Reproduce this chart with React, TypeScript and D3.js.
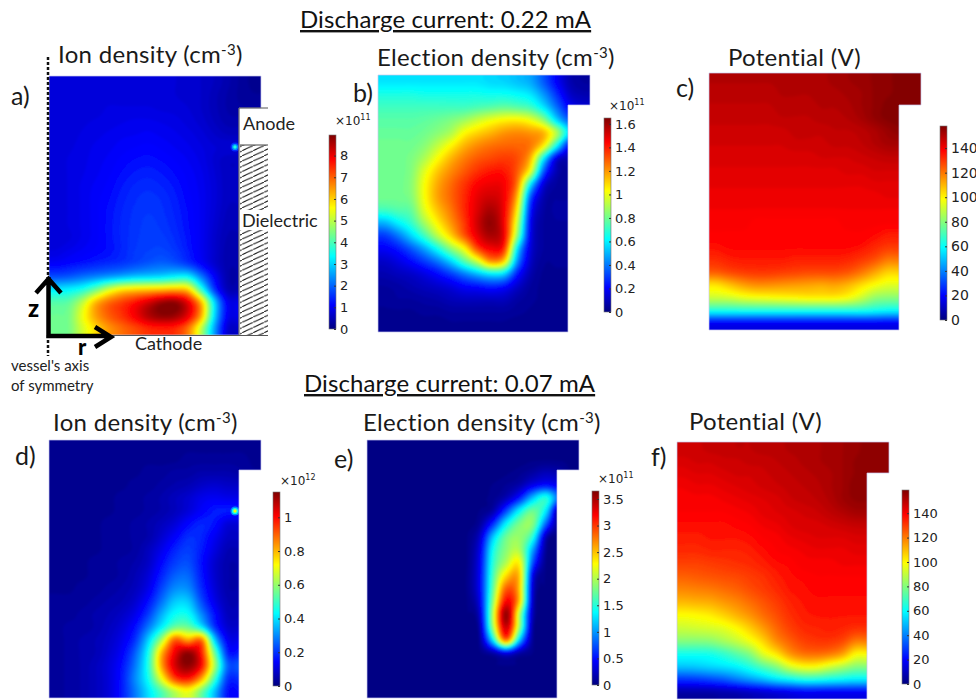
import { useEffect, useRef } from "react"
import * as d3 from "d3"

// field values, top row first, shorter rows repeat their last value
const ionHigh = [
  [.8,.8,.8,.8,.8,.8,.8,.8,.78,.75,.7,.65,.55,.4,.25,.15],
  [.8,.8,.8,.8,.8,.8,.8,.8,.78,.75,.7,.65,.5,.36,.25,.2],
  [.8,.8,.8,.8,.85,.85,.85,.85,.82,.8,.75,.65,.5,.36,.3,.3],
  [.78,.8,.82,.85,.88,.92,.95,.95,.92,.88,.8,.7,.55,.42],
  [.78,.8,.85,.9,.95,1,1.02,1.05,1,.95,.88,.78,.65,.55],
  [.78,.82,.88,.95,1,1.07,1.12,1.15,1.1,1.02,.95,.85,.75,.75],
  [.78,.85,.9,.98,1.05,1.15,1.22,1.25,1.2,1.12,1.02,.9,.72,.58],
  [.78,.85,.92,1,1.1,1.22,1.32,1.36,1.3,1.2,1.08,.95,.75,.58],
  [.78,.85,.95,1.05,1.15,1.3,1.42,1.46,1.4,1.28,1.12,.98,.78,.58],
  [.78,.85,.95,1.08,1.2,1.36,1.48,1.54,1.48,1.34,1.16,1,.78,.58],
  [.76,.85,.95,1.08,1.24,1.4,1.52,1.58,1.52,1.38,1.2,1,.76,.54],
  [.76,.85,.95,1.08,1.25,1.42,1.54,1.62,1.56,1.42,1.22,1,.72,.5],
  [.76,.82,.95,1.08,1.25,1.42,1.56,1.64,1.62,1.48,1.26,1,.68,.45],
  [.85,.95,1.05,1.15,1.25,1.42,1.6,1.68,1.72,1.58,1.32,1,.68,.4],
  [1.1,1.2,1.3,1.4,1.5,1.6,1.75,1.9,2,1.9,1.6,1.15,.7,.4],
  [1.8,1.9,2.1,2.3,2.5,2.7,2.9,3,3.1,3.3,3.3,2.2,1.1,.4],
  [3.2,3.3,3.6,4.3,5.2,5.8,6,6.1,6.2,6.3,6,3.8,1.6,.5],
  [4.1,4.2,5,6.2,6.9,7.3,7.7,8.2,8.7,8.8,8,6.2,3,1],
  [4.3,4.4,5.4,6.4,7,7.4,7.9,8.5,8.8,8.7,8,6.3,3,1],
  [4.3,4.4,5.2,5.9,6.5,6.9,7.2,7.5,7.6,7.5,6.8,5,2.5,.7],
]

const electronHigh = [
  [.58,.58,.58,.58,.58,.58,.58,.58,.56,.55,.52,.48,.35,.2,.08,.05],
  [.66,.66,.66,.65,.65,.65,.65,.65,.64,.64,.62,.58,.45,.28,.12,.08],
  [.72,.72,.72,.72,.72,.72,.72,.74,.76,.78,.76,.72,.58,.38,.2,.15],
  [.76,.76,.76,.77,.79,.82,.87,.94,1,1.04,1.05,1,.85,.55,.35],
  [.78,.78,.78,.8,.84,.9,1.03,1.1,1.15,1.2,1.22,1.2,1.15,.9,.55],
  [.8,.8,.8,.84,.93,1.04,1.15,1.22,1.26,1.28,1.28,1.25,1.05,.62,.2],
  [.8,.8,.82,.9,1.03,1.15,1.24,1.3,1.33,1.35,1.32,1.15,.6,.15,.08],
  [.8,.8,.83,.98,1.12,1.22,1.3,1.37,1.41,1.41,1.3,1,.35,.08,.05],
  [.8,.8,.84,1.02,1.17,1.27,1.36,1.44,1.47,1.45,1.25,.6,.15,.05],
  [.8,.8,.83,1.02,1.18,1.28,1.38,1.48,1.52,1.46,1.15,.35,.08,.05],
  [.72,.75,.78,.98,1.13,1.25,1.38,1.5,1.58,1.46,1.05,.25,.06],
  [.5,.6,.7,.88,1.05,1.2,1.35,1.52,1.62,1.46,.95,.2,.05],
  [.3,.4,.55,.72,.92,1.1,1.3,1.48,1.58,1.47,.85,.18,.05],
  [.2,.25,.35,.48,.65,.85,1.03,1.33,1.45,1.38,.6,.15,.05],
  [.12,.16,.22,.3,.4,.55,.75,.95,1.2,1.1,.45,.12,.04],
  [.08,.1,.12,.16,.22,.3,.4,.5,.58,.55,.25,.08,.03],
  [.05,.06,.08,.1,.12,.15,.2,.22,.25,.22,.12,.05,.03],
  [.04,.05,.05,.06,.07,.09,.1,.1,.1,.1,.06,.04,.03],
  [.03,.03,.03,.04,.04,.05,.05,.05,.05,.05,.04,.03,.02],
  [.02,.02,.02,.02,.02,.03,.03,.03,.03,.03,.02,.02,.02],
]

const potentialHigh = [
  [150,150,150,150,150,150,150,151,151,152,153,154,155,156,157,157],
  [149,149,149,149,149,150,150,150,151,151,152,153,155,156,157,157],
  [148,148,148,148,148,149,149,149,150,150,151,153,155,157],
  [147,147,147,147,147,148,148,148,149,149,150,152,155,157],
  [146,146,146,146,146,146,147,147,147,148,148,149,151,154,156],
  [145,145,145,145,145,145,146,146,146,147,147,148,150,152],
  [144,144,144,144,144,144,144,144,145,145,145,146,147,148],
  [143,143,143,143,143,143,143,143,143,143,144,144,145,145,145],
  [142,142,142,142,142,142,142,142,142,142,142,142,143,143],
  [141,141,141,141,141,141,141,141,141,141,141,141,141,142],
  [140,140,140,140,140,140,140,140,140,140,140,140,140,140],
  [139,139,139,138,138,138,138,138,138,138,139,139,139,139],
  [138,138,138,138,138,138,138,138,138,138,138,138,137,135],
  [136,137,137,137,137,137,137,137,137,137,137,136,133,130],
  [132,134,135,135,135,135,134,134,134,134,133,130,126,120],
  [124,127,129,130,130,129,128,127,127,127,125,120,113,106],
  [103,108,113,116,116,115,114,113,112,113,110,104,98,94],
  [90,91,94,96,97,98,99,100,100,100,97,90,82,80],
  [62,62,62,62,62,62,62,62,62,62,62,62,60,58],
  [18,18,18,18,18,18,18,18,18,18,18,18,18,18],
]

const ionLow = [
  [.02,.02,.02,.02,.02,.02,.02,.02,.02,.02,.02,.02,.02,.02,.02,.02],
  [.02,.02,.02,.02,.02,.02,.02,.02,.02,.02,.03,.03,.03,.03,.03,.02],
  [.02,.02,.02,.02,.02,.02,.02,.03,.03,.04,.04,.05,.05,.05,.04,.03],
  [.02,.02,.02,.02,.02,.02,.03,.03,.04,.05,.06,.08,.09,.08],
  [.02,.02,.02,.02,.02,.03,.03,.04,.05,.07,.09,.12,.13,.12],
  [.02,.02,.02,.02,.02,.03,.03,.04,.05,.07,.1,.14,.17,.17],
  [.02,.02,.02,.02,.03,.03,.04,.05,.07,.1,.15,.18,.16,.1],
  [.02,.02,.02,.02,.03,.03,.04,.05,.09,.14,.19,.18,.13,.08],
  [.02,.02,.02,.02,.03,.03,.04,.07,.12,.18,.21,.17,.11,.06],
  [.02,.02,.02,.03,.03,.04,.05,.08,.15,.21,.23,.16,.09,.05],
  [.02,.02,.02,.03,.03,.04,.06,.1,.18,.25,.26,.17,.09,.05],
  [.02,.02,.03,.03,.04,.05,.07,.12,.22,.3,.3,.19,.1,.05],
  [.03,.03,.03,.04,.05,.06,.09,.16,.27,.37,.37,.23,.12,.06],
  [.03,.03,.04,.05,.06,.08,.12,.21,.34,.44,.44,.3,.16,.07],
  [.03,.04,.04,.05,.07,.1,.16,.28,.42,.55,.55,.42,.2,.09],
  [.03,.04,.05,.06,.08,.12,.2,.38,.62,.9,.82,.88,.38,.13],
  [.03,.04,.05,.06,.09,.14,.25,.45,.8,1.02,1.13,.98,.55,.18],
  [.03,.04,.05,.07,.1,.16,.28,.47,.82,1.05,1.13,1,.62,.25],
  [.03,.04,.05,.07,.1,.17,.3,.45,.7,.93,.98,.82,.5,.2],
  [.03,.04,.05,.07,.1,.17,.28,.4,.52,.64,.7,.56,.36,.16],
]

const electronLow = [
  [.02,.02,.02,.02,.02,.02,.02,.02,.02,.02,.02,.02,.02,.02,.02,.02],
  [.02,.02,.02,.02,.02,.02,.02,.02,.02,.02,.02,.02,.03,.03,.03,.03],
  [.02,.02,.02,.02,.02,.02,.02,.02,.02,.02,.03,.06,.12,.2,.15,.05],
  [.02,.02,.02,.02,.02,.02,.02,.02,.03,.04,.08,.16,.38,.5,.4],
  [.02,.02,.02,.02,.02,.02,.02,.02,.03,.06,.2,.55,1.15,1.5,.8],
  [.02,.02,.02,.02,.02,.02,.02,.02,.04,.15,.7,1.35,1.75,1.3,.05],
  [.02,.02,.02,.02,.02,.02,.02,.02,.1,.6,1.35,1.8,1.85,.8,.03],
  [.02,.02,.02,.02,.02,.02,.02,.03,.25,1.15,1.75,1.9,1.5,.2,.02],
  [.02,.02,.02,.02,.02,.02,.02,.03,.35,1.4,1.85,1.98,1.05,.08,.02],
  [.02,.02,.02,.02,.02,.02,.02,.03,.4,1.5,2,2.3,.75,.04,.02],
  [.02,.02,.02,.02,.02,.02,.02,.04,.42,1.6,2.4,2.5,.4,.03,.02],
  [.02,.02,.02,.02,.02,.02,.02,.04,.42,1.7,2.85,2.5,.3,.03,.02],
  [.02,.02,.02,.02,.02,.02,.02,.03,.35,1.85,3.2,2.5,.25,.03,.02],
  [.02,.02,.02,.02,.02,.02,.02,.03,.25,2,3.6,2,.2,.03,.02],
  [.02,.02,.02,.02,.02,.02,.02,.03,.15,1.9,3.4,1.9,.12,.02],
  [.02,.02,.02,.02,.02,.02,.02,.02,.08,1.3,2.8,1.2,.08,.02],
  [.02,.02,.02,.02,.02,.02,.02,.02,.03,.15,.4,.15,.04,.02],
  [.02,.02,.02,.02,.02,.02,.02,.02,.02,.03,.04,.03,.02,.02],
  [.02,.02,.02,.02,.02,.02,.02,.02,.02,.02,.02,.02,.02,.02],
  [.02,.02,.02,.02,.02,.02,.02,.02,.02,.02,.02,.02,.02,.02],
]

const potentialLow = [
  [147,147,148,148,149,149,150,150,151,151,152,153,154,155,157,157],
  [145,146,146,147,147,148,148,149,150,151,152,153,154,156,157,157],
  [143,144,144,145,146,146,147,148,149,150,151,152,154,156,157],
  [141,142,142,143,144,145,146,147,148,149,150,152,154,157],
  [140,140,140,141,142,143,144,145,147,148,149,151,154,156],
  [139,139,139,139,140,141,143,144,145,146,147,149,151,153],
  [137,137,137,137,138,139,141,142,144,145,145,146,147,148],
  [135,135,136,136,136,137,139,140,142,143,144,144,144,145],
  [133,133,134,134,134,135,137,139,140,141,142,142,142,143],
  [129,129,130,131,132,133,135,137,138,140,140,140,141,141],
  [124,125,126,127,128,130,132,135,137,138,139,139,139,139],
  [118,119,120,122,124,127,130,133,136,137,138,138,138,138],
  [110,111,112,115,118,122,126,130,134,136,137,137,137,137],
  [99,100,102,106,111,116,122,127,132,135,136,136,136,136],
  [91,92,93,95,100,107,115,123,129,133,134,135,134,132],
  [80,80,81,85,90,97,106,117,124,129,131,131,128,120],
  [62,62,63,67,73,80,94,103,115,121,122,120,114,100],
  [50,51,53,55,58,64,72,80,92,98,98,92,86,80],
  [27,28,30,33,38,43,48,54,58,62,62,60,58,56],
  [6,6,6,7,8,10,12,14,16,18,18,18,18,18],
]

const ticksIonHigh = [0, 1, 2, 3, 4, 5, 6, 7, 8]
const ticksElectronHigh = [0, 0.2, 0.4, 0.6, 0.8, 1, 1.2, 1.4, 1.6]
const ticksPotential = [0, 20, 40, 60, 80, 100, 120, 140]
const ticksIonLow = [0, 0.2, 0.4, 0.6, 0.8, 1]
const ticksElectronLow = [0, 0.5, 1, 1.5, 2, 2.5, 3, 3.5]

const jetStops = [0, 0.125, 0.375, 0.625, 0.875, 1]
const jetColors = ["#00007f", "#0000ff", "#00ffff", "#ffff00", "#ff0000", "#7f0000"]

const spotIonHigh = [1.5, 2.4, 3.6]
const spotIonLow = [0.3, 0.45, 0.7]

const panels = [
  { id: "a", grid: ionHigh, max: 8.95, ticks: ticksIonHigh, exp: "11", spot: spotIonHigh, x: 49, y: 76, h: 259, notch: 32, bar: [329, 135], expX: 335, expY: 125, tickSize: 13, blur: 1 },
  { id: "b", grid: electronHigh, max: 1.65, ticks: ticksElectronHigh, exp: "11", spot: null, x: 378, y: 75, h: 257, notch: 30, bar: [604, 118], expX: 609, expY: 110, tickSize: 13, blur: 1 },
  { id: "c", grid: potentialHigh, max: 158, ticks: ticksPotential, exp: null, spot: null, x: 709, y: 73, h: 257, notch: 32, bar: [940, 126], tickSize: 14, blur: 1.6 },
  { id: "d", grid: ionLow, max: 1.15, ticks: ticksIonLow, exp: "12", spot: spotIonLow, x: 49, y: 440, h: 258, notch: 30, bar: [273, 492], expX: 280, expY: 485, tickSize: 13, blur: 1 },
  { id: "e", grid: electronLow, max: 3.65, ticks: ticksElectronLow, exp: "11", spot: null, x: 367, y: 440, h: 258, notch: 30, bar: [592, 491], expX: 598, expY: 483, tickSize: 13, blur: 1 },
  { id: "f", grid: potentialLow, max: 159, ticks: ticksPotential, exp: null, spot: null, x: 677, y: 442, h: 257, notch: 31, bar: [902, 490], tickSize: 13, blur: 1.6 },
]

const titles = [
  { label: "Ion density (cm", sup: "-3", tail: ")", x: 58, y: 63 },
  { label: "Election density (cm", sup: "-3", tail: ")", x: 377, y: 66 },
  { label: "Potential (V)", x: 728, y: 66 },
  { label: "Ion density (cm", sup: "-3", tail: ")", x: 53, y: 431 },
  { label: "Election density (cm", sup: "-3", tail: ")", x: 363, y: 431 },
  { label: "Potential (V)", x: 689, y: 430 },
]

const letters = [
  ["a)", 11, 105], ["b)", 353, 102], ["c)", 676, 97],
  ["d)", 15, 465], ["e)", 334, 468], ["f)", 651, 466],
]

const headings = [
  { label: "Discharge current: 0.22 mA", x: 300, y: 28 },
  { label: "Discharge current: 0.07 mA", x: 304, y: 392 },
]

const bodyWidth = 190
const fullWidth = 212
const barWidth = 7
const barHeight = 194
const titleFont = "Lato, 'Open Sans', sans-serif"
const tickFont = "'DejaVu Sans', sans-serif"

const padGrid = (grid: number[][], pad: number) => {
  const cols = d3.max(grid, r => r.length) as number
  const full = grid.map(r => d3.range(cols).map(i => (i < r.length ? r[i] : r[r.length - 1])))
  const wide = full.map(r => [...d3.range(pad).map(() => r[0]), ...r, ...d3.range(pad).map(() => r[cols - 1])])
  return [
    ...d3.range(pad).map(() => wide[0]),
    ...wide,
    ...d3.range(pad).map(() => wide[wide.length - 1]),
  ]
}

// resample a row of cell values so the contours come out round instead of faceted
const resample = (values: number[], k: number) => {
  const n = values.length
  const at = (i: number) => values[Math.max(0, Math.min(n - 1, i))]
  return d3.range(n * k).map(j => {
    const u = (j + 0.5) / k - 0.5
    const i = Math.floor(u)
    const t = u - i
    const [a, b, c, d] = [at(i - 1), at(i), at(i + 1), at(i + 2)]
    return 0.5 * (2 * b + (c - a) * t + (2 * a - 5 * b + 4 * c - d) * t * t + (3 * b - a - 3 * c + d) * t * t * t)
  })
}

const resampleGrid = (grid: number[][], k: number) => {
  const wide = grid.map(r => resample(r, k))
  const columns = d3.range(wide[0].length).map(j => resample(wide.map(r => r[j]), k))
  return d3.range(columns[0].length).map(i => columns.map(c => Math.max(0, c[i])))
}

const App = () => {
  const svgRef = useRef<SVGSVGElement>(null)

  useEffect(() => {
    const svg = d3.select(svgRef.current)
    svg.selectAll("*").remove()
    const defs = svg.append("defs")

    defs.append("filter").attr("id", "softSpot")
      .attr("x", "-100%").attr("y", "-100%").attr("width", "300%").attr("height", "300%")
      .append("feGaussianBlur").attr("stdDeviation", 0.6)

    const hatch = defs.append("pattern").attr("id", "hatch")
      .attr("patternUnits", "userSpaceOnUse").attr("width", 11).attr("height", 5.2)
    hatch.append("path").attr("d", "M-1,5.67 L12,-0.47").attr("stroke", "#222").attr("stroke-width", 1)

    panels.forEach(p => {
      const color = d3.scaleLinear<string>().domain(jetStops.map(s => s * p.max)).range(jetColors)
      const pad = 2
      const k = 4
      const grid = resampleGrid(padGrid(p.grid, pad), k)
      const rows = grid.length
      const cols = grid[0].length
      const sx = d3.scaleLinear().domain([0, cols]).range([p.x - (pad * fullWidth) / 16, p.x + fullWidth + (pad * fullWidth) / 16])
      const sy = d3.scaleLinear().domain([0, rows]).range([p.y - (pad * p.h) / 20, p.y + p.h + (pad * p.h) / 20])

      defs.append("filter").attr("id", `soft-${p.id}`)
        .attr("x", "-5%").attr("y", "-5%").attr("width", "110%").attr("height", "110%")
        .append("feGaussianBlur").attr("stdDeviation", p.blur)

      const outline = [
        [p.x, p.y], [p.x + fullWidth, p.y], [p.x + fullWidth, p.y + p.notch],
        [p.x + bodyWidth, p.y + p.notch], [p.x + bodyWidth, p.y + p.h], [p.x, p.y + p.h],
      ]
      const outlinePath = d3.line()(outline as [number, number][]) + "Z"
      defs.append("clipPath").attr("id", `clip-${p.id}`).append("path").attr("d", outlinePath)

      const steps = 96
      const contours = d3.contours().size([cols, rows])
        .thresholds(d3.range(steps).map(i => (i * p.max) / steps))(grid.flat())
      const path = d3.geoPath(d3.geoTransform({
        point(x, y) { this.stream.point(sx(x), sy(y)) },
      }))

      const clipped = svg.append("g").attr("clip-path", `url(#clip-${p.id})`)
      clipped.append("g").attr("filter", `url(#soft-${p.id})`)
        .selectAll("path").data(contours).join("path")
        .attr("d", path as any)
        .attr("fill", (_, i) => color(((i + 0.5) * p.max) / steps))

      if (p.spot) {
        clipped.append("g").attr("filter", "url(#softSpot)")
          .selectAll("circle").data(p.spot).join("circle")
          .attr("cx", p.x + 186).attr("cy", p.y + 71)
          .attr("r", (_, i) => 4.5 - i * 1.4)
          .attr("fill", d => color(d))
      }
      svg.append("path").attr("d", outlinePath).attr("fill", "none")
        .attr("stroke", "#c8c8ee").attr("stroke-width", 1).attr("opacity", 0.7)

      // colour bar
      const [bx, by] = p.bar
      const gradId = `grad-${p.id}`
      defs.append("linearGradient").attr("id", gradId)
        .attr("x1", 0).attr("x2", 0).attr("y1", 1).attr("y2", 0)
        .selectAll("stop").data(jetStops).join("stop")
        .attr("offset", d => d)
        .attr("stop-color", (_, i) => jetColors[i])
      svg.append("rect").attr("x", bx).attr("y", by).attr("width", barWidth).attr("height", barHeight)
        .attr("fill", `url(#${gradId})`).attr("stroke", "#777").attr("stroke-width", 0.6)

      const barScale = d3.scaleLinear().domain([0, p.max]).range([by + barHeight, by])
      const axis = d3.axisRight(barScale)
        .tickValues(p.ticks)
        .tickFormat(d => String(d))
        .tickSizeInner(-2).tickSizeOuter(0).tickPadding(4)
      const axisG = svg.append("g").attr("transform", `translate(${bx + barWidth},0)`).call(axis)
      axisG.select(".domain").remove()
      axisG.selectAll("line").attr("stroke", "#333")
      axisG.selectAll("text").attr("font-family", tickFont).attr("font-size", p.tickSize).attr("fill", "#222")

      if (p.exp) {
        const t = svg.append("text").attr("x", p.expX as number).attr("y", p.expY as number)
          .attr("font-family", tickFont).attr("font-size", 12).attr("fill", "#222")
        t.append("tspan").text("×10")
        t.append("tspan").attr("dy", -5).attr("font-size", 8).text(p.exp)
      }
    })

    // titles and labels
    titles.forEach(t => {
      const el = svg.append("text").attr("x", t.x).attr("y", t.y)
        .attr("font-family", titleFont).attr("font-size", 24).attr("letter-spacing", 0.3).attr("fill", "#1a1a1a")
      el.append("tspan").text(t.label)
      if (t.sup) {
        el.append("tspan").attr("dy", -8).attr("font-size", 15).text(t.sup)
        el.append("tspan").attr("dy", 8).text(t.tail as string)
      }
    })
    svg.append("g").selectAll("text").data(letters).join("text")
      .attr("x", d => d[1]).attr("y", d => d[2])
      .attr("font-family", titleFont).attr("font-size", 25).attr("fill", "#1a1a1a")
      .text(d => d[0])
    svg.append("g").selectAll("text").data(headings).join("text")
      .attr("x", d => d.x).attr("y", d => d.y)
      .attr("font-family", titleFont).attr("font-size", 24).attr("letter-spacing", 0.1).attr("fill", "#111")
      .attr("text-decoration", "underline")
      .text(d => d.label)

    // panel a annotations
    const ann = svg.append("g")
    ann.append("rect").attr("x", 240).attr("y", 145).attr("width", 28).attr("height", 190).attr("fill", "url(#hatch)")
    ann.append("rect").attr("x", 240).attr("y", 210).attr("width", 30).attr("height", 20).attr("fill", "#fff")
    ann.append("path").attr("d", "M268,108 H239 V145 M239,145 V335 M112,335.5 H268")
      .attr("fill", "none").attr("stroke", "#555").attr("stroke-width", 1)
    ann.append("path").attr("d", "M240,145 H268").attr("stroke", "#444").attr("stroke-width", 1)
    const small = [
      ["Anode", 243, 130, 18], ["Dielectric", 242, 227, 18], ["Cathode", 135, 350, 18],
      ["vessel's axis", 11, 371, 15], ["of symmetry", 11, 391, 15],
    ] as [string, number, number, number][]
    ann.selectAll("text.note").data(small).join("text").attr("class", "note")
      .attr("x", d => d[1]).attr("y", d => d[2]).attr("font-size", d => d[3])
      .attr("font-family", titleFont).attr("fill", "#222").text(d => d[0])
    ann.append("path").attr("d", "M48,57 V277 M48,335 V356")
      .attr("stroke", "#111").attr("stroke-width", 2.5).attr("stroke-dasharray", "3 2").attr("fill", "none")
    ann.append("path")
      .attr("d", "M48.5,277 V336 H110 M36,293 L48.5,279 L61,293 M95,327 L111,337 L95,347")
      .attr("fill", "none").attr("stroke", "#000").attr("stroke-width", 4.5)
    ann.append("text").attr("x", 28).attr("y", 317).attr("font-family", titleFont)
      .attr("font-weight", 900).attr("font-size", 24).text("z")
    ann.append("text").attr("x", 78).attr("y", 355).attr("font-family", titleFont)
      .attr("font-weight", 900).attr("font-size", 22).text("r")
  }, [])

  return (
    <svg
      ref={svgRef}
      width={976}
      height={700}
      style={{ position: "absolute", left: 0, top: 0, background: "#fff" }}
    />
  )
}

export default App
